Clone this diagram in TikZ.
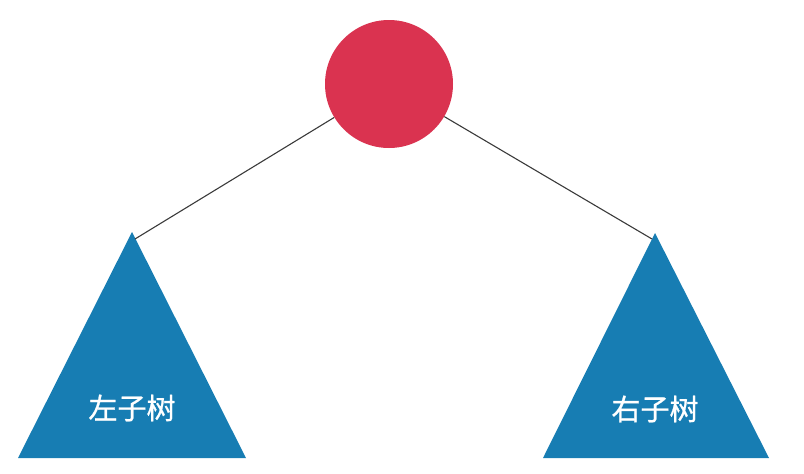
\documentclass[tikz,border=0pt]{standalone}
\usepackage{fontspec}
\newfontfamily\cjk[FakeBold=0.9]{Noto Sans CJK SC}
\definecolor{rootred}{HTML}{DA3350}
\definecolor{treeblue}{HTML}{177DB3}
\definecolor{edgegray}{HTML}{3A3A3A}
\begin{document}
\begin{tikzpicture}[x=1pt,y=-1pt,
  rootnode/.style={circle,fill=rootred,draw=none,minimum size=128pt,inner sep=0pt},
  subtree/.style={fill=treeblue,draw=none},
  treelabel/.style={text=white,font=\cjk\fontsize{29}{32}\selectfont,inner sep=0pt},
  edge/.style={draw=edgegray,line width=1.1pt}]
\useasboundingbox (0,0) rectangle (804,474);
\node[rootnode] (root) at (389,84) {};
\coordinate (lapex) at (132,232);
\coordinate (rapex) at (655,233);
\coordinate (lattach) at (135,239);
\coordinate (rattach) at (652,239);
\fill[subtree] (lapex) -- (246,458) -- (18,458) -- cycle;
\fill[subtree] (rapex) -- (769,458) -- (543,458) -- cycle;
\node[treelabel] (ltext) at (132,408) {左子树};
\node[treelabel] (rtext) at (655,409) {右子树};
\draw[edge] (root) -- (lattach);
\draw[edge] (root) -- (rattach);
\end{tikzpicture}
\end{document}
